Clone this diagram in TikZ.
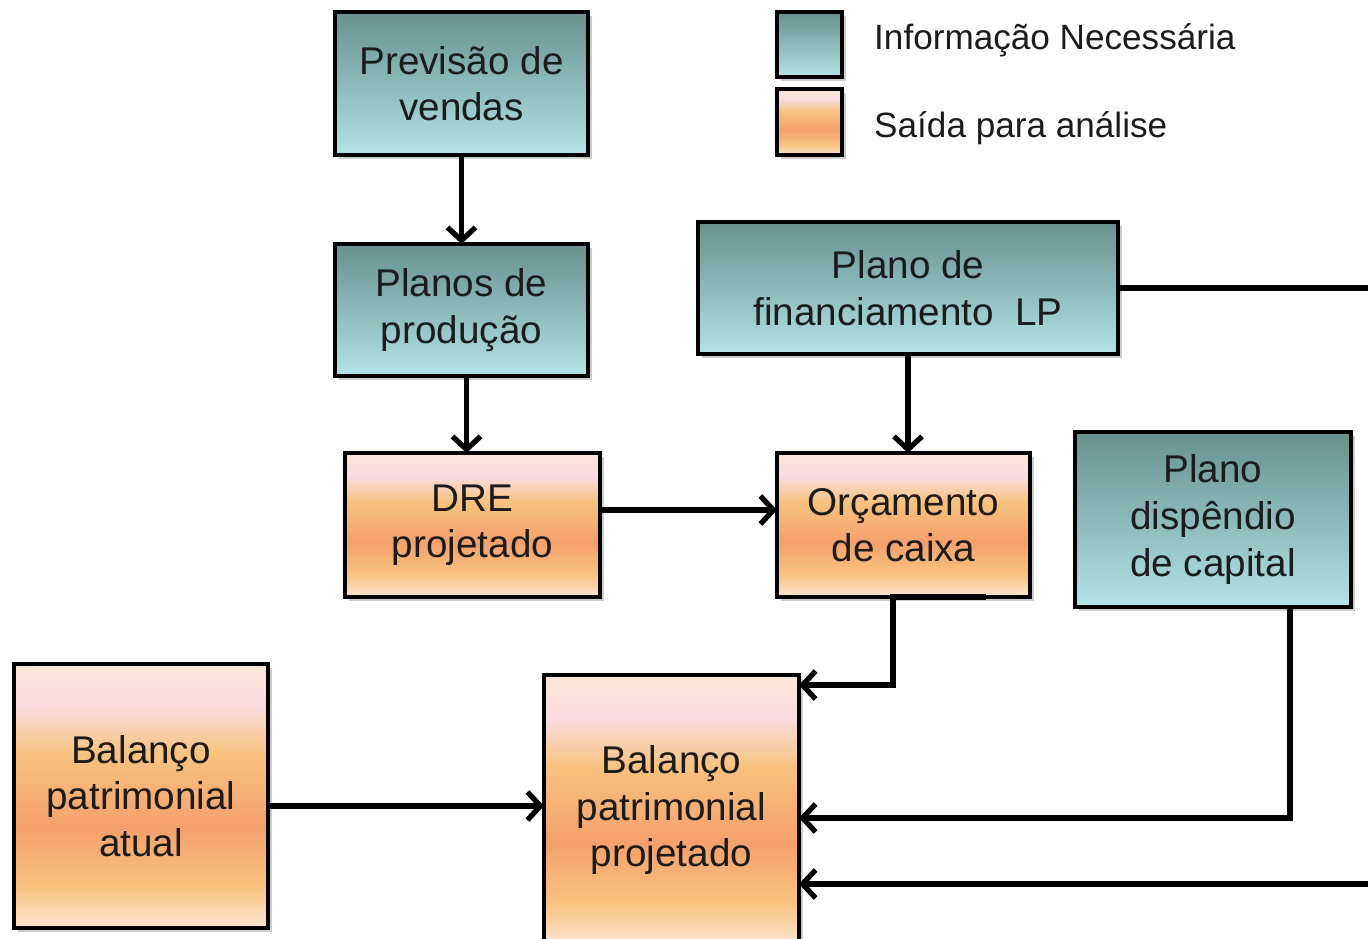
\documentclass[tikz,border=0pt]{standalone}
\usepackage{fontspec}
\setmainfont{Liberation Sans}
\usetikzlibrary{arrows.meta,shadows}

\definecolor{infotop}{HTML}{66918F}
\definecolor{infobot}{HTML}{B2E3E6}
\definecolor{outtop}{HTML}{FCE6D6}
\definecolor{outpink}{HTML}{F9DCE0}
\definecolor{outyel}{HTML}{F8C27E}
\definecolor{outorange}{HTML}{F5A06C}
\definecolor{outbot}{HTML}{FDE4D2}
\definecolor{txt}{HTML}{1C1C1C}

\pgfdeclareverticalshading{infoshade}{100bp}{color(0bp)=(infobot); color(25bp)=(infobot); color(75bp)=(infotop); color(100bp)=(infotop)}
\pgfdeclareverticalshading{outshade}{100bp}{color(0bp)=(outbot); color(25bp)=(outbot); color(33bp)=(outyel); color(44bp)=(outorange); color(58bp)=(outyel); color(67bp)=(outpink); color(75bp)=(outtop); color(100bp)=(outtop)}

\begin{document}
\begin{tikzpicture}[x=0.02cm, y=-0.02cm, >={Straight Barb[length=2.6mm,width=5.6mm]},
  box/.style={draw=black, line width=2.6pt, inner sep=0pt, outer sep=0pt, align=center,
    text=txt, font=\fontsize{22}{26.5}\selectfont,
    drop shadow={shadow xshift=0.08cm, shadow yshift=-0.08cm, opacity=0.4}},
  info/.style={box, shading=infoshade},
  output/.style={box, shading=outshade},
  conn/.style={->, line width=3pt},
  legtext/.style={anchor=west, text=txt, font=\fontsize{20}{24}\selectfont}]

\useasboundingbox (0,0) rectangle (1368,939);

% legenda
\node[info, minimum width=1.3cm, minimum height=1.3cm] (leginfo) at (809.5,44.5) {};
\node[output, minimum width=1.3cm, minimum height=1.32cm] (legout) at (809.5,122) {};
\node[legtext] (leginfotxt) at (868,40) {Informação Necessária};
\node[legtext] (legouttxt) at (868,128) {Saída para análise};

% caixas
\node[info, minimum width=5.06cm, minimum height=2.86cm] (prev) at (461.5,83.5) {Previsão de\\vendas};
\node[info, minimum width=5.06cm, minimum height=2.64cm] (plan) at (461.5,310) {Planos de\\produção};
\node[output, minimum width=5.1cm, minimum height=2.88cm] (dre) at (472.5,525) {DRE\\projetado};
\node[output, minimum width=5.06cm, minimum height=2.88cm] (orc) at (903.5,525) {Orçamento\\de caixa};
\node[info, minimum width=8.4cm, minimum height=2.64cm] (fin) at (908,288) {Plano de\\financiamento \ LP};
\node[info, minimum width=5.52cm, minimum height=3.5cm] (cap) at (1213,519.5) {Plano\\dispêndio\\de capital};
\node[output, minimum width=5.08cm, minimum height=5.28cm] (bat) at (141,796) {Balanço\\patrimonial\\atual};
\node[output, minimum width=5.1cm, minimum height=5.4cm] (bpj) at (671.5,810) {Balanço\\patrimonial\\projetado};

\coordinate (rim) at (1380,884);

% ligacoes
\draw[conn] (prev) -- (plan);
\draw[conn] ([xshift=0.1cm]plan.south) -- ([xshift=0.1cm]plan.south |- dre.north);
\draw[conn] ([yshift=0.3cm]dre.east) -- ([yshift=0.3cm]dre.east -| orc.west);
\draw[conn] (fin) -- (fin |- orc.north);
\draw[conn] ([xshift=1.65cm]orc.south) -- ([xshift=-0.21cm]orc.south) |- ([yshift=-0.2cm]bpj.north east);
\draw[conn] ([xshift=1.54cm]cap.south) |- ([yshift=-0.16cm]bpj.east);
\draw[conn] (fin.east) -| (rim) -- (rim -| bpj.east);
\draw[conn] ([yshift=-0.2cm]bat.east) -- ([yshift=-0.2cm]bat.east -| bpj.west);

\end{tikzpicture}
\end{document}
